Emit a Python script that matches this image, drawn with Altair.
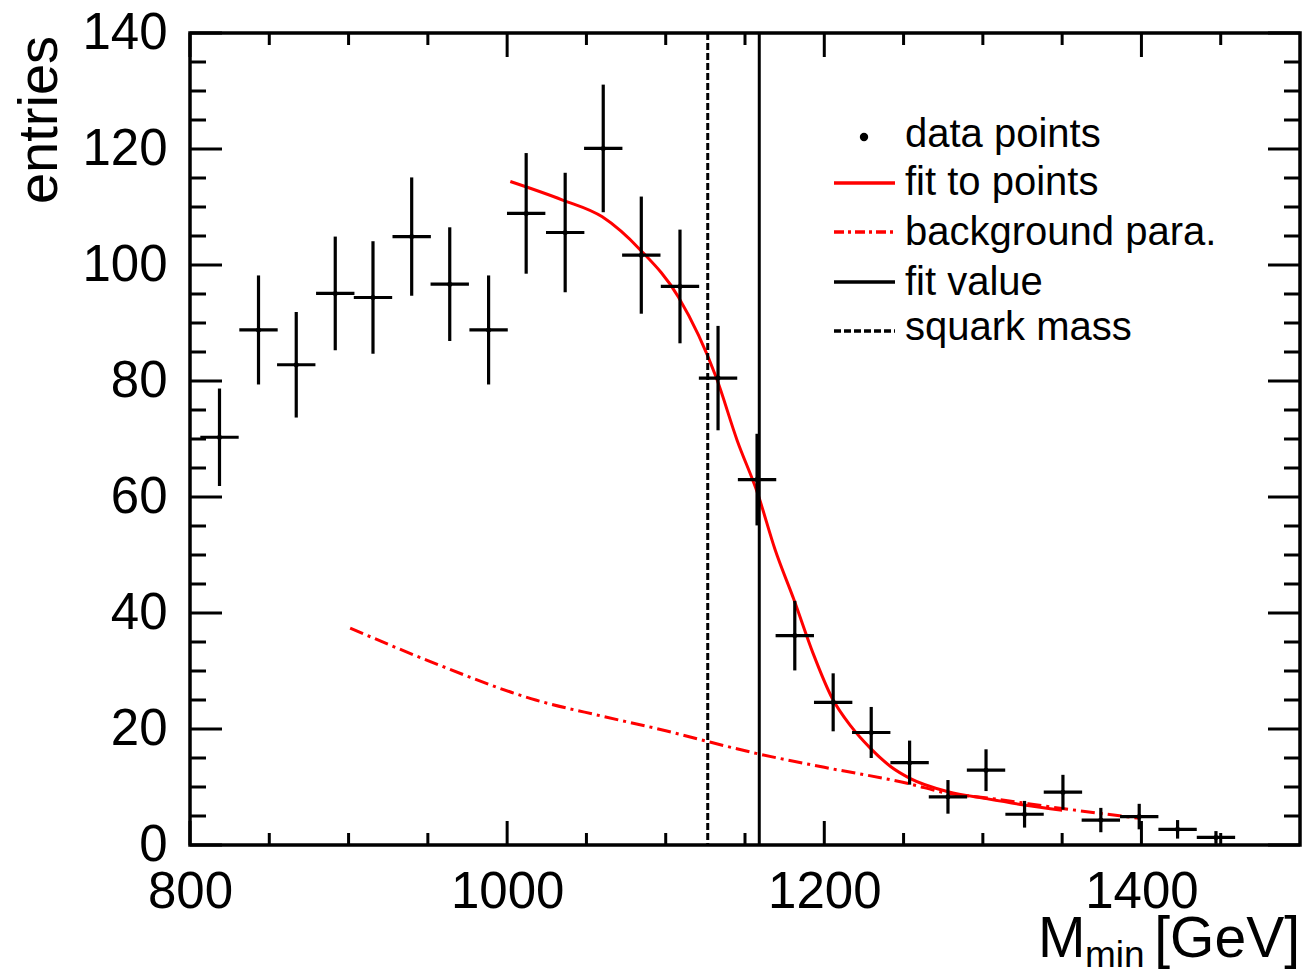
import altair as alt
import pandas as pd

# ---- data ----
bin_x = [818.6, 843.2, 867.0, 891.6, 915.4, 939.8, 963.8, 988.3, 1012.0, 1036.6,
         1060.6, 1084.6, 1109.0, 1133.0, 1157.6, 1181.4, 1205.6, 1229.6, 1253.8,
         1278.0, 1302.0, 1326.3, 1350.5, 1374.4, 1398.6, 1422.8, 1447.0]
entries = [70.3, 88.8, 82.8, 95.1, 94.4, 104.9, 96.7, 88.8, 108.9, 105.6,
           120.1, 101.7, 96.3, 80.5, 63.0, 36.1, 24.6, 19.4, 14.2,
           8.3, 12.9, 5.3, 9.1, 4.3, 4.9, 2.7, 1.3]
errors = [8.4, 9.4, 9.1, 9.8, 9.7, 10.2, 9.8, 9.4, 10.4, 10.3,
          11.0, 10.1, 9.8, 9.0, 7.9, 6.0, 5.0, 4.4, 3.8,
          2.9, 3.6, 2.3, 3.0, 2.1, 2.2, 1.6, 1.1]
bin_half = 12.1

fit_x = [1002, 1035, 1060, 1084, 1108, 1132, 1145, 1158, 1169, 1181, 1193, 1205,
         1217, 1229, 1242, 1254, 1278, 1302, 1326, 1350]
fit_y = [114.4, 111.2, 108.3, 102.6, 94.5, 80.5, 69.8, 60.6, 50.9, 42.2, 33.0, 25.3,
         20.4, 16.7, 13.5, 11.5, 9.2, 8.0, 6.9, 6.0]

bg_x = [901, 950, 1018, 1060, 1100, 1127, 1157, 1200, 1253, 1278, 1300, 1350, 1399]
bg_y = [37.4, 31.8, 25.0, 22.2, 19.7, 17.8, 15.8, 13.4, 10.6, 8.9, 8.2, 6.3, 4.6]

fit_value = 1159.0
squark_mass = 1126.5

x_major = [800, 1000, 1200, 1400]
x_minor = [850, 900, 950, 1050, 1100, 1150, 1250, 1300, 1350, 1450]
y_major = [0, 20, 40, 60, 80, 100, 120, 140]
y_minor = [5, 10, 15, 25, 30, 35, 45, 50, 55, 65, 70, 75, 85, 90, 95,
           105, 110, 115, 125, 130, 135]

legend_labels = ["data points", "fit to points", "background para.", "fit value", "squark mass"]

W, H = 1110, 812
FONT = "Liberation Sans"

xs = alt.Scale(domain=[800, 1500], nice=False, zero=False)
ys = alt.Scale(domain=[0, 140], nice=False, zero=False)

pts = pd.DataFrame({"x": bin_x, "y": entries, "e": errors})
pts["lo"] = pts["y"] - pts["e"]
pts["hi"] = pts["y"] + pts["e"]
pts["xl"] = pts["x"] - bin_half
pts["xr"] = pts["x"] + bin_half

fit = pd.DataFrame({"x": fit_x, "y": fit_y})
bg = pd.DataFrame({"x": bg_x, "y": bg_y})

base = alt.Chart(pts)

axes_layer = alt.Chart(pd.DataFrame({"x": [800, 1500], "y": [0, 140]})).mark_point(opacity=0).encode(
    x=alt.X("x:Q", scale=xs, axis=alt.Axis(values=x_major, format="d", title=None, ticks=False,
                                           domain=False, grid=False, labelFontSize=51,
                                           labelFont=FONT, labelColor="black", labelPadding=22,
                                           labelFlush=False, labelOverlap=False)),
    y=alt.Y("y:Q", scale=ys, axis=alt.Axis(values=y_major, format="d", title=None, ticks=False,
                                           domain=False, grid=False, labelFontSize=51,
                                           labelFont=FONT, labelColor="black", labelPadding=23,
                                           labelFlush=False, labelOverlap=False)),
)

vbars = base.mark_rule(color="black", strokeWidth=3.2).encode(
    x=alt.X("x:Q", scale=xs), y=alt.Y("lo:Q", scale=ys), y2="hi:Q")
hbars = base.mark_rule(color="black", strokeWidth=3.2).encode(
    x=alt.X("xl:Q", scale=xs), x2="xr:Q", y=alt.Y("y:Q", scale=ys))
dots = base.mark_circle(color="black", size=25, opacity=1).encode(
    x=alt.X("x:Q", scale=xs), y=alt.Y("y:Q", scale=ys))

fit_line = alt.Chart(fit).mark_line(color="#ff0000", strokeWidth=3, interpolate="monotone").encode(
    x=alt.X("x:Q", scale=xs), y=alt.Y("y:Q", scale=ys))
bg_line = alt.Chart(bg).mark_line(color="#ff0000", strokeWidth=3, strokeDash=[14, 5, 3, 5],
                                  interpolate="monotone").encode(
    x=alt.X("x:Q", scale=xs), y=alt.Y("y:Q", scale=ys))

fitv = alt.Chart(pd.DataFrame({"x": [fit_value]})).mark_rule(color="black", strokeWidth=3).encode(
    x=alt.X("x:Q", scale=xs), y=alt.value(0), y2=alt.value(H))
sqm = alt.Chart(pd.DataFrame({"x": [squark_mass]})).mark_rule(color="black", strokeWidth=3,
                                                               strokeDash=[7, 3]).encode(
    x=alt.X("x:Q", scale=xs), y=alt.value(0), y2=alt.value(H))

def xticks(vals, length):
    d = alt.Chart(pd.DataFrame({"x": vals}))
    bot = d.mark_rule(color="black", strokeWidth=3).encode(
        x=alt.X("x:Q", scale=xs), y=alt.value(H), y2=alt.value(H - length))
    top = d.mark_rule(color="black", strokeWidth=3).encode(
        x=alt.X("x:Q", scale=xs), y=alt.value(0), y2=alt.value(length))
    return [bot, top]

def yticks(vals, length):
    d = alt.Chart(pd.DataFrame({"y": vals}))
    left = d.mark_rule(color="black", strokeWidth=3).encode(
        y=alt.Y("y:Q", scale=ys), x=alt.value(0), x2=alt.value(length))
    right = d.mark_rule(color="black", strokeWidth=3).encode(
        y=alt.Y("y:Q", scale=ys), x=alt.value(W), x2=alt.value(W - length))
    return [left, right]

ticks = xticks(x_major, 24) + xticks(x_minor, 12) + yticks(y_major, 32) + yticks(y_minor, 16)

one = alt.Chart(pd.DataFrame({"k": [0]}))
leg_x_text = 715
leg_rows = [102, 150, 200, 250, 295]
leg_texts = [one.mark_text(align="left", baseline="middle", fontSize=40, font=FONT, color="black",
                           text=lab).encode(x=alt.value(leg_x_text), y=alt.value(ry))
             for lab, ry in zip(legend_labels, leg_rows)]
leg_dot = one.mark_circle(color="black", size=70, opacity=1).encode(x=alt.value(674), y=alt.value(104))
leg_fit = one.mark_rule(color="#ff0000", strokeWidth=3.5).encode(
    x=alt.value(644), x2=alt.value(705), y=alt.value(150))
leg_bg = one.mark_rule(color="#ff0000", strokeWidth=3.5, strokeDash=[10, 4, 3, 4]).encode(
    x=alt.value(644), x2=alt.value(705), y=alt.value(199))
leg_fv = one.mark_rule(color="black", strokeWidth=3.5).encode(
    x=alt.value(644), x2=alt.value(705), y=alt.value(249))
leg_sq = one.mark_rule(color="black", strokeWidth=3.5, strokeDash=[7, 3]).encode(
    x=alt.value(644), x2=alt.value(705), y=alt.value(298))

ytitle = one.mark_text(angle=270, align="center", baseline="middle", fontSize=56, font=FONT,
                       color="black", text="entries").encode(x=alt.value(-150), y=alt.value(87))
xt_M = one.mark_text(align="left", baseline="alphabetic", fontSize=57, font=FONT, color="black",
                     text="M").encode(x=alt.value(848), y=alt.value(924))
xt_min = one.mark_text(align="left", baseline="alphabetic", fontSize=37, font=FONT, color="black",
                       text="min").encode(x=alt.value(895), y=alt.value(934))
xt_gev = one.mark_text(align="right", baseline="alphabetic", fontSize=57, font=FONT, color="black",
                       text="[GeV]").encode(x=alt.value(1110), y=alt.value(924))

chart = alt.layer(
    axes_layer, *ticks, bg_line, fit_line, sqm, fitv, vbars, hbars, dots,
    *leg_texts, leg_dot, leg_fit, leg_bg, leg_fv, leg_sq, ytitle, xt_M, xt_min, xt_gev,
).properties(
    width=W, height=H,
    autosize=alt.AutoSizeParams(type="none"),
    padding={"left": 190, "top": 33, "right": 10, "bottom": 129},
    background="white",
).configure_view(stroke="black", strokeWidth=3.5)

chart.save("out.html", embed_options={"renderer": "svg", "actions": False})
